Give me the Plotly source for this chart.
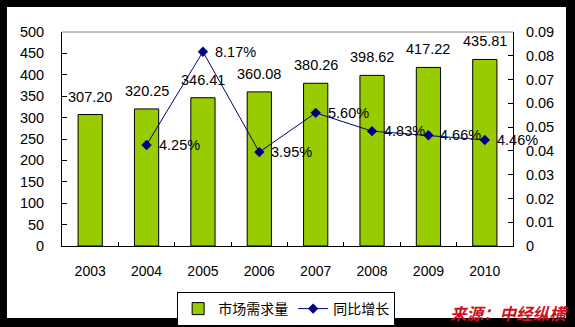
import plotly.graph_objects as go

years = ["2003", "2004", "2005", "2006", "2007", "2008", "2009", "2010"]
demand = [307.20, 320.25, 346.41, 360.08, 380.26, 398.62, 417.22, 435.81]
growth_years = ["2004", "2005", "2006", "2007", "2008", "2009", "2010"]
growth = [0.0425, 0.0817, 0.0395, 0.0560, 0.0483, 0.0466, 0.0446]
left_ticks = [0, 50, 100, 150, 200, 250, 300, 350, 400, 450, 500]
right_ticks = [0, 0.01, 0.02, 0.03, 0.04, 0.05, 0.06, 0.07, 0.08, 0.09]

FONT = "Liberation Sans, Arial, sans-serif"
CJK = "Noto Sans CJK SC, sans-serif"

xi = list(range(len(years)))
gxi = [years.index(g) for g in growth_years]
boundaries = [i + 0.5 for i in xi[:-1]]

fig = go.Figure()
fig.add_trace(go.Bar(
    x=xi, y=demand, name="市场需求量", width=0.43,
    marker=dict(color="#99CC00", line=dict(color="black", width=1)),
    yaxis="y",
))
fig.add_trace(go.Scatter(
    x=gxi, y=growth, name="同比增长", mode="lines+markers",
    line=dict(color="#000080", width=1),
    marker=dict(symbol="diamond", size=8, color="#000080"),
    yaxis="y2",
))

annotations = []
for x, v in zip(xi, demand):
    annotations.append(dict(x=x, y=v, xref="x", yref="y", text=f"{v:.2f}",
                            showarrow=False, yanchor="middle", yshift=18,
                            font=dict(family=FONT, size=14.5, color="black")))
for x, v in zip(gxi, growth):
    annotations.append(dict(x=x, y=v, xref="x", yref="y2", text=f"{v*100:.2f}%",
                            showarrow=False, xanchor="left", yanchor="middle", xshift=10,
                            font=dict(family=FONT, size=14.5, color="black")))
annotations.append(dict(x=0.991, y=-0.313, xref="paper", yref="paper",
                        text="<b><i>来源：中经纵横</i></b>", showarrow=False,
                        xanchor="center", yanchor="middle",
                        font=dict(family=CJK, size=16.5, color="#CC1122")))

fig.update_layout(
    width=575, height=327,
    margin=dict(l=62, r=62, t=32, b=81, autoexpand=False),
    paper_bgcolor="black",
    plot_bgcolor="rgba(0,0,0,0)",
    showlegend=True,
    legend=dict(orientation="h", x=0.497, y=-0.215, xanchor="center", yanchor="top",
                bordercolor="black", borderwidth=1, bgcolor="white",
                font=dict(family=CJK, size=14, color="black")),
    xaxis=dict(range=[-0.5, len(years) - 0.5], tickvals=xi, ticktext=years,
               showline=True, linecolor="black", linewidth=1,
               ticks="", showgrid=False, zeroline=False, ticklabelstandoff=12,
               minor=dict(tickvals=boundaries, ticks="inside", ticklen=4,
                          tickcolor="black", showgrid=False),
               tickfont=dict(family=FONT, size=14, color="black")),
    yaxis=dict(range=[0, 500], tickvals=left_ticks, showline=True, linecolor="black",
               linewidth=1, ticks="inside", ticklen=5, tickcolor="black",
               showgrid=False, zeroline=False, ticklabelstandoff=14,
               tickfont=dict(family=FONT, size=14.5, color="black")),
    yaxis2=dict(range=[0, 0.09], tickvals=right_ticks, overlaying="y", side="right",
                showline=True, linecolor="black", linewidth=1, ticks="inside",
                ticklen=5, tickcolor="black", showgrid=False, zeroline=False,
                ticklabelstandoff=9, tickformat="~g",
                tickfont=dict(family=FONT, size=14.5, color="black")),
    annotations=annotations,
    shapes=[
        dict(type="rect", xref="paper", yref="paper", x0=-0.122, x1=1.1175,
             y0=-0.3364, y1=1.1168, fillcolor="white", line=dict(width=0), layer="below"),
        dict(type="line", xref="paper", yref="paper", x0=0, x1=1, y0=1, y1=1,
             line=dict(color="#808080", width=1)),
    ],
)

fig.write_html("out.html")
